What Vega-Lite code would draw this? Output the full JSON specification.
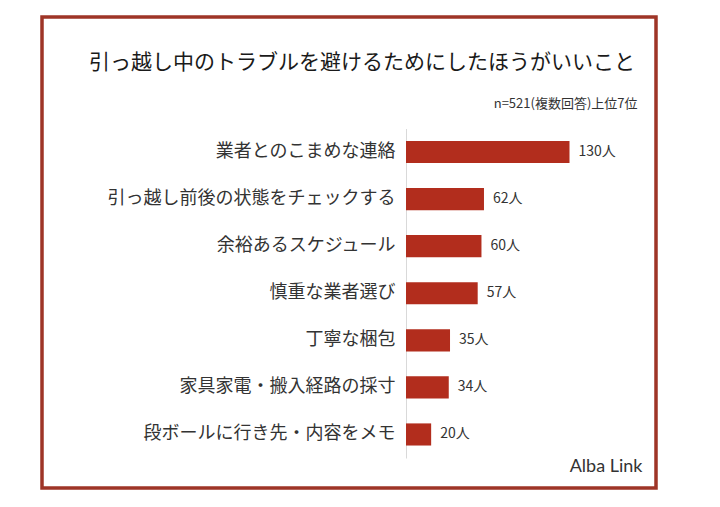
{
  "$schema": "https://vega.github.io/schema/vega-lite/v6.json",
  "width": 614,
  "height": 471,
  "autosize": {"type": "none"},
  "padding": {"left": 42, "top": 17, "right": 64, "bottom": 19},
  "background": "white",
  "config": {
    "font": "Noto Sans CJK JP",
    "view": {"stroke": "#9E3527", "strokeWidth": 3.5}
  },
  "title": {
    "text": "引っ越し中のトラブルを避けるためにしたほうがいいこと",
    "fontSize": 21,
    "fontWeight": "normal",
    "color": "#1a1a1a",
    "anchor": "middle",
    "offset": -56,
    "dx": 13
  },
  "data": {
    "values": [
      {"item": "業者とのこまめな連絡", "n": 130, "label": "130人"},
      {"item": "引っ越し前後の状態をチェックする", "n": 62, "label": "62人"},
      {"item": "余裕あるスケジュール", "n": 60, "label": "60人"},
      {"item": "慎重な業者選び", "n": 57, "label": "57人"},
      {"item": "丁寧な梱包", "n": 35, "label": "35人"},
      {"item": "家具家電・搬入経路の採寸", "n": 34, "label": "34人"},
      {"item": "段ボールに行き先・内容をメモ", "n": 20, "label": "20人"}
    ]
  },
  "encoding": {
    "y": {
      "field": "item",
      "type": "nominal",
      "sort": null,
      "scale": {"range": [111.5, 441], "paddingInner": 0.53, "paddingOuter": 0.265},
      "axis": {
        "offset": -364,
        "domainColor": "#d9d9d9",
        "domainWidth": 1,
        "ticks": false,
        "labelFontSize": 18,
        "labelColor": "#333333",
        "labelPadding": 11,
        "labelLimit": 0,
        "title": "n=521(複数回答)上位7位",
        "titleAngle": 0,
        "titleX": 231,
        "titleY": 86,
        "titleAlign": "right",
        "titleBaseline": "middle",
        "titleFontSize": 13,
        "titleFontWeight": "normal",
        "titleColor": "#333333"
      }
    },
    "x": {
      "field": "n",
      "type": "quantitative",
      "scale": {"domain": [0, 130], "range": [364, 527.5], "nice": false},
      "axis": {
        "domain": false,
        "ticks": false,
        "labels": false,
        "grid": false,
        "title": "Alba Link",
        "titleFont": "Lato",
        "titleFontSize": 18,
        "titleFontWeight": "normal",
        "titleColor": "#333333",
        "titleAlign": "right",
        "titleBaseline": "middle",
        "titleX": 600,
        "titleY": -22
      }
    }
  },
  "layer": [
    {"mark": {"type": "bar", "color": "#B22D1D"}},
    {
      "mark": {"type": "text", "align": "left", "baseline": "middle", "dx": 9, "fontSize": 14, "color": "#333333"},
      "encoding": {"text": {"field": "label"}}
    }
  ]
}
